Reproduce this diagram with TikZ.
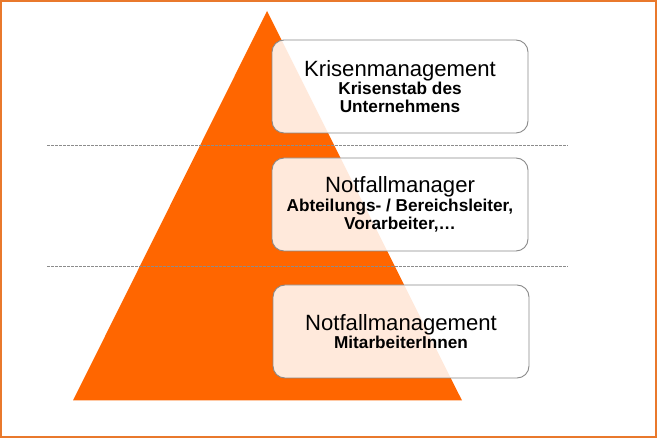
\documentclass[tikz,border=0pt]{standalone}
\usepackage{fontspec}
\setmainfont{Liberation Sans}
\definecolor{pyr}{HTML}{FF6600}
\definecolor{frameor}{HTML}{E9792C}
\definecolor{boxline}{HTML}{8A8A8A}
\definecolor{dashgray}{HTML}{8C8C8C}
\tikzset{
  levelbox/.style={draw=boxline, line width=0.9pt, fill=white, fill opacity=0.86, text opacity=1,
    rounded corners=12pt, minimum width=256pt, minimum height=93pt, inner sep=0pt, align=center,
    font=\fontsize{17.2pt}{17.8pt}\selectfont\bfseries},
  sepline/.style={draw=dashgray, dashed, dash pattern=on 2.5pt off 1.5pt, line width=0.7pt}
}
\newcommand{\ttltext}[1]{{\fontsize{22.1pt}{24pt}\selectfont\mdseries #1}}
\begin{document}
\begin{tikzpicture}[x=1pt,y=-1pt]
\useasboundingbox (0,0) rectangle (657,438);
\fill[white] (0,0) rectangle (657,438);
\draw[frameor, line width=2pt] (1,1) rectangle (656,437);
% pyramid
\coordinate (apex) at (267,11);
\coordinate (bl) at (73,400.5);
\coordinate (br) at (462,400.5);
\fill[pyr] (apex) -- (bl) -- (br) -- cycle;
% separators
\coordinate (s1a) at (47,145);
\coordinate (s1b) at (568,145);
\coordinate (s2a) at (47,266);
\coordinate (s2b) at (568,266);
\draw[sepline] (s1a) -- (s1b);
\draw[sepline] (s2a) -- (s2b);
% boxes
\node[levelbox] (b1) at (400,86.5) {\ttltext{Krisenmanagement}\\[1pt]Krisenstab des\\Unternehmens};
\node[levelbox] (b2) at (400,204.5) {\ttltext{Notfallmanager}\\[1.5pt]Abteilungs- / Bereichsleiter,\\Vorarbeiter,\dots};
\node[levelbox] (b3) at (401,331.5) {\ttltext{Notfallmanagement}\\[0.5pt]MitarbeiterInnen};
\end{tikzpicture}
\end{document}
